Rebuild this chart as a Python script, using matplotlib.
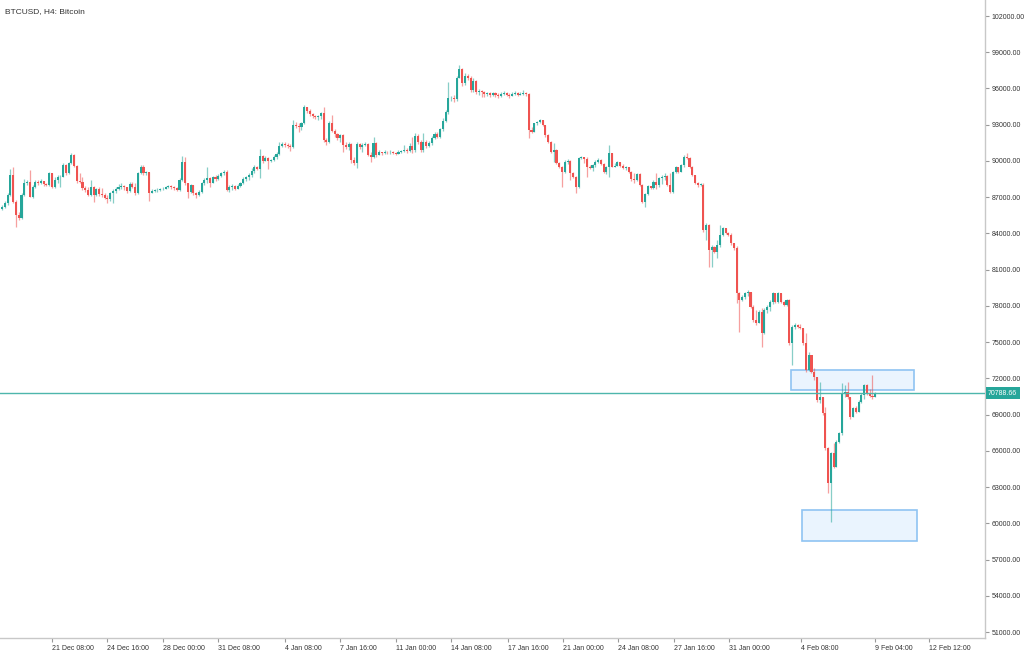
import matplotlib
matplotlib.use("Agg")
import matplotlib.pyplot as plt
import matplotlib.transforms as mtransforms
from matplotlib.patches import Rectangle
import numpy as np

# ---------------- data (BTCUSD, H4) ----------------
first_open = 86050
close = [
    # 18 Dec - 28 Dec
    86220, 86490, 87180, 88840, 86630, 85530, 85250, 87180, 88150, 88290,
    87050, 87870, 88290, 88200, 88370, 88090, 88010, 88980, 87870, 88420,
    88650, 88700, 89670, 88980, 89860, 90490, 89580, 88370, 88290, 87740,
    87600, 87180, 87870, 87180, 87650, 87240, 87180, 86910, 86820, 87320,
    87540, 87710, 87820, 87930, 87820, 87510, 88090, 87870, 87320, 88980,
    89530, 88980, 89060, 87380, 87540, 87570, 87600, 87650, 87710, 87820, 87900,
    # 28 Dec - 6 Jan
    87820, 87740, 87600, 88430, 89940, 88150, 87460, 88010, 87320, 87180,
    87460, 88150, 88430, 88560, 88200, 88650, 88480, 88780, 88980, 89110,
    87600, 87870, 87960, 87710, 87930, 88150, 88480, 88650, 88840, 89200,
    89530, 89360, 90410, 90030, 90270, 89970, 90050, 90330, 90580, 91240,
    91400, 91320, 91240, 91130, 92980, 92890, 92780, 93120, 94440, 94160,
    93890, 93720, 93670, 93720,
    # 6 Jan - 16 Jan
    93940, 91740, 91540, 93120, 92480, 92210, 91930, 92150, 91320, 91190,
    91380, 90080, 89810, 91380, 91190, 91320, 91380, 90500, 90360, 91460,
    90500, 90720, 90630, 90770, 90720, 90770, 90690, 90610, 90770, 90830,
    90940, 90830, 91270, 90910, 92100, 91540, 90910, 91600, 91270, 91490,
    91930, 92210, 92010, 92650, 93310, 94030, 95190, 95240, 95100, 96900,
    97610, 96430, 97060, 96900, 95880, 96620, 95740, 95790, 95680, 95520, 95600,
    # 16 Jan - 27 Jan
    95450, 95600, 95500, 95380, 95550, 95650, 95500, 95400, 95550, 95620,
    95500, 95580, 95650, 95550,
    92560, 92430, 93120, 93250, 93390, 92980, 92150, 91600, 90770, 90910,
    89810, 89530, 89120, 89940, 90030, 88980, 88700, 87870, 90220, 90300,
    90140, 89530, 89390, 89670, 89940, 90080, 89750, 89120, 89470, 90630,
    89530, 89580, 89890, 89610, 89450, 89470, 89120, 88480, 88430, 88920,
    88010, 86630, 87270, 87930,
    # 27 Jan - 4 Feb
    87730, 88290, 88010, 88560, 88700, 88760, 88010, 87460, 89110, 89470,
    89110, 89640, 90360, 90220, 89530, 88840, 88150, 88010, 88010, 84290,
    84700, 82630, 82910, 82490, 83040, 83870, 84420, 84060, 83870, 83180,
    82770, 79040, 78490, 78770, 79040, 79180, 77940, 76840, 76560, 77530,
    75730, 77660, 77940, 78350, 79040, 78350, 79040, 78350, 78080, 78490,
    74910, 76290, 76420, 76290,
    # 4 Feb - 9 Feb
    76150, 74900, 72700, 73940, 72560, 72150, 70210, 70490, 69110, 66210,
    63320, 65800, 64700, 66770, 67460, 70770, 70900, 70430, 68830, 69520,
    69250, 70080, 70630, 71460, 70770, 70540, 70430, 70789,
]
high = [
    86330, 86710, 87380, 89310, 89530, 86770, 85800, 87320, 88480, 88420,
    89250, 88010, 88420, 88420, 88480, 88260, 88200, 89110, 89030, 88700,
    88840, 88840, 89800, 89750, 89940, 90630, 90580, 89670, 89030, 88650,
    87930, 87820, 88420, 87930, 87790, 87870, 87730, 87380, 87180, 87460,
    87650, 87870, 88090, 88150, 88010, 87870, 88260, 88290, 88200, 89110,
    89670, 89640, 89140, 89110, 87710, 87680, 87740, 87740, 87820, 87930, 88040,
    87980, 87930, 87870, 88560, 90410, 90360, 88200, 88090, 88040, 87460,
    87600, 88260, 88560, 89530, 88650, 88760, 88840, 88920, 89110, 89250,
    89250, 87980, 88070, 88010, 88090, 88290, 88650, 88760, 88980, 89390,
    89670, 89580, 90960, 90490, 90410, 90360, 90190, 90470, 90770, 91600,
    91600, 91570, 91460, 91400, 93390, 93250, 93120, 93250, 94630, 94490,
    94270, 94000, 93830, 93830,
    94080, 94500, 91870, 93310, 93810, 92650, 92290, 92260, 92210, 91540,
    91540, 91460, 90360, 91540, 91490, 91460, 91540, 91460, 90720, 92010,
    91540, 90880, 90770, 90880, 90830, 90880, 90830, 90770, 90880, 90940,
    91320, 91100, 91460, 92010, 92290, 92210, 91740, 92290, 91710, 91650,
    92100, 92370, 92430, 92760, 93530, 94220, 96570, 95410, 95460, 97060,
    97940, 97720, 97260, 97170, 97060, 96840, 96700, 95960, 95900, 95790, 95740,
    95700, 95750, 95680, 95600, 95720, 95800, 95700, 95600, 95700, 95780,
    95680, 95750, 95850, 95720,
    95600, 92780, 93170, 93340, 93450, 93390, 92890, 92230, 91680, 91460,
    90960, 89940, 89580, 90080, 90140, 90080, 89120, 88760, 90360, 90410,
    90360, 90300, 89670, 89750, 90080, 90220, 90140, 89860, 89580, 91320,
    90690, 89860, 89990, 89860, 89720, 89580, 89360, 89200, 89030, 89030,
    89030, 88090, 87380, 88040,
    87930, 88420, 88980, 88700, 88840, 88980, 88810, 88980, 89200, 89580,
    89530, 89750, 90490, 90630, 90300, 89580, 88640, 88290, 88200, 88150,
    84840, 84780, 83040, 82960, 83460, 84700, 84560, 84290, 84150, 84010,
    83240, 82960, 79180, 78910, 79180, 79320, 79180, 78080, 77660, 77660,
    77800, 77800, 78050, 78490, 79180, 79100, 79150, 79100, 78440, 78600,
    78550, 76420, 76560, 76510,
    76500, 75870, 75730, 74220, 73940, 72840, 71920, 71730, 70490, 69660,
    66350, 65940, 66630, 66900, 67590, 71590, 71460, 71730, 70270, 69660,
    69720, 70210, 70770, 71540, 71540, 71090, 72280, 70870,
]
low = [
    85940, 86080, 86360, 87100, 86490, 84510, 85110, 85170, 87100, 88010,
    86990, 86910, 87740, 88010, 88090, 87930, 87930, 87930, 87740, 87740,
    88200, 87870, 88650, 88840, 88890, 89750, 89470, 88200, 88150, 87600,
    87460, 87100, 87100, 86630, 87100, 87100, 87050, 86820, 86550, 86710,
    86490, 87380, 87600, 87650, 87600, 87380, 87460, 87740, 87180, 87270,
    88920, 88870, 88870, 86710, 87320, 87430, 87460, 87510, 87600, 87680, 87790,
    87650, 87600, 87510, 87540, 88370, 88010, 86910, 87380, 87180, 86910,
    87100, 87380, 88010, 88200, 87870, 88150, 88370, 88430, 88650, 88810,
    87540, 87460, 87600, 87600, 87650, 87870, 88090, 88310, 88430, 88700,
    89030, 89250, 88560, 89860, 90030, 89360, 89890, 90030, 90190, 90470,
    91130, 91180, 91050, 90850, 91050, 92700, 92430, 92560, 93060, 94000,
    93720, 93560, 93450, 93390,
    93470, 91600, 91320, 91460, 92370, 92010, 91740, 91540, 90770, 90990,
    90910, 89810, 89670, 89390, 90990, 90770, 91210, 90440, 89940, 90270,
    90360, 90500, 90500, 90580, 90610, 90610, 90550, 90500, 90550, 90690,
    90720, 90660, 90770, 90630, 90770, 91380, 90770, 90720, 91100, 91190,
    91320, 91820, 91870, 91930, 92480, 93250, 93860, 94970, 94910, 94970,
    96840, 96230, 96290, 96700, 95680, 95740, 95520, 95460, 95320, 95320, 95410,
    95300, 95350, 95300, 95200, 95300, 95450, 95350, 95250, 95350, 95450,
    95380, 95420, 95500, 95400,
    91870, 92290, 92510, 92950, 93170, 92890, 92010, 91460, 90690, 89940,
    89750, 89390, 87870, 89030, 89750, 88430, 88560, 87320, 87730, 90140,
    89810, 88700, 89310, 89200, 89470, 89860, 89640, 88980, 88920, 88700,
    89470, 89470, 89750, 89530, 89360, 89250, 89030, 88370, 88150, 88370,
    87930, 86550, 86220, 87190,
    87650, 87680, 87680, 87870, 88090, 88420, 87930, 87320, 87370, 89030,
    89030, 89090, 89530, 90140, 89420, 88760, 88090, 87870, 87930, 84150,
    83460, 81250, 81250, 82350, 81940, 82850, 83790, 83960, 83790, 83040,
    82630, 78220, 75870, 78440, 78550, 78820, 77800, 76700, 76420, 76620,
    74630, 75680, 77440, 77610, 78160, 78270, 78270, 78270, 77990, 77990,
    74770, 73110, 76060, 76150,
    76060, 74770, 72560, 72640, 72470, 71870, 70080, 69940, 68970, 66080,
    62490, 60140, 64560, 64700, 66630, 67320, 70490, 70320, 68610, 68780,
    69110, 69330, 69990, 70270, 70630, 70430, 70270, 70430,
]

tick_labels = ["21 Dec 08:00", "24 Dec 16:00", "28 Dec 00:00", "31 Dec 08:00",
               "4 Jan 08:00", "7 Jan 16:00", "11 Jan 00:00", "14 Jan 08:00",
               "17 Jan 16:00", "21 Jan 00:00", "24 Jan 08:00", "27 Jan 16:00",
               "31 Jan 00:00", "4 Feb 08:00", "9 Feb 04:00", "12 Feb 12:00"]
tick_bars = [18, 38, 58, 78, 102, 122, 142.2, 162, 182.5, 202.3, 222.2, 242.4,
             262.2, 288.1, 314.8, 334.4]
price_ticks = list(range(51000, 102001, 3000))
last_price = 70788.66
zone_upper = (71015, 72670)
zone_lower = (58565, 61082)
zone_upper_bars = (284.7, 329.0)
zone_lower_bars = (288.6, 329.9)

# ---------------- drawing ----------------
UP = "#26a69a"
DN = "#ef5350"
TXT = "#333333"
AXC = "#c8c8c8"

plt.rcParams['font.family'] = ['Liberation Sans', 'DejaVu Sans']

c = np.array(close, dtype=float)
o = np.r_[first_open, c[:-1]]
h = np.maximum(np.array(high, dtype=float), np.maximum(o, c))
l = np.minimum(np.array(low, dtype=float), np.minimum(o, c))
x = np.arange(len(c))
up = c >= o

fig = plt.figure(figsize=(10.24, 6.53), dpi=100)
fig.patch.set_facecolor("white")
ax = fig.add_axes([0.0, 15 / 653, 985 / 1024, 638 / 653])
ax.set_facecolor("white")

# zones
for (b0, b1), (p0, p1) in [(zone_upper_bars, zone_upper), (zone_lower_bars, zone_lower)]:
    ax.add_patch(Rectangle((b0, p0), b1 - b0, p1 - p0, facecolor="#eaf4fe",
                           edgecolor="#8fc3f2", lw=1.2, zorder=1))

# wicks
ax.vlines(x[up], l[up], h[up], color=UP, lw=0.9, alpha=0.55, zorder=2)
ax.vlines(x[~up], l[~up], h[~up], color=DN, lw=0.9, alpha=0.55, zorder=2)
# bodies
body_bottom = np.minimum(o, c)
body_h = np.maximum(np.abs(c - o), 45)
colors = np.where(up, UP, DN)
ax.bar(x, body_h, bottom=body_bottom, width=0.75, color=colors, linewidth=0, zorder=3)

# current price line
ax.axhline(last_price, color="#4db6ac", lw=1.0, zorder=4)

ax.set_xlim(-0.76, 354.6)
ax.set_ylim(50511, 103159 + 2 * 82.78)

# axes styling
for s in ["left", "top"]:
    ax.spines[s].set_visible(False)
for s in ["right", "bottom"]:
    ax.spines[s].set_color(AXC)
    ax.spines[s].set_linewidth(1.0)

ax.yaxis.tick_right()
ax.set_yticks(price_ticks)
ax.set_yticklabels([f"{p:.2f}" for p in price_ticks])
ax.tick_params(axis="y", which="both", length=3, width=0.8, color="#999999",
               labelsize=5, labelcolor=TXT, pad=2)

ax.set_xticks(tick_bars)
ax.set_xticklabels(tick_labels, ha="left")
ax.tick_params(axis="x", which="both", length=3, width=0.8, color="#999999",
               labelsize=5, labelcolor=TXT, pad=2)

# last-price tag on the price scale
trans = mtransforms.blended_transform_factory(ax.transAxes, ax.transData)
ax.text(1.003, last_price, f"{last_price:.2f}", transform=trans, ha="left", va="center",
        fontsize=5, color="white", zorder=10, clip_on=False,
        bbox=dict(boxstyle="square,pad=0.35", facecolor="#26a69a", edgecolor="none"))

fig.text(5 / 1024, 1 - 12 / 653, "BTCUSD, H4: Bitcoin", fontsize=6, color=TXT,
         ha="left", va="center")

fig.savefig("out.png", dpi=100, facecolor="white")
